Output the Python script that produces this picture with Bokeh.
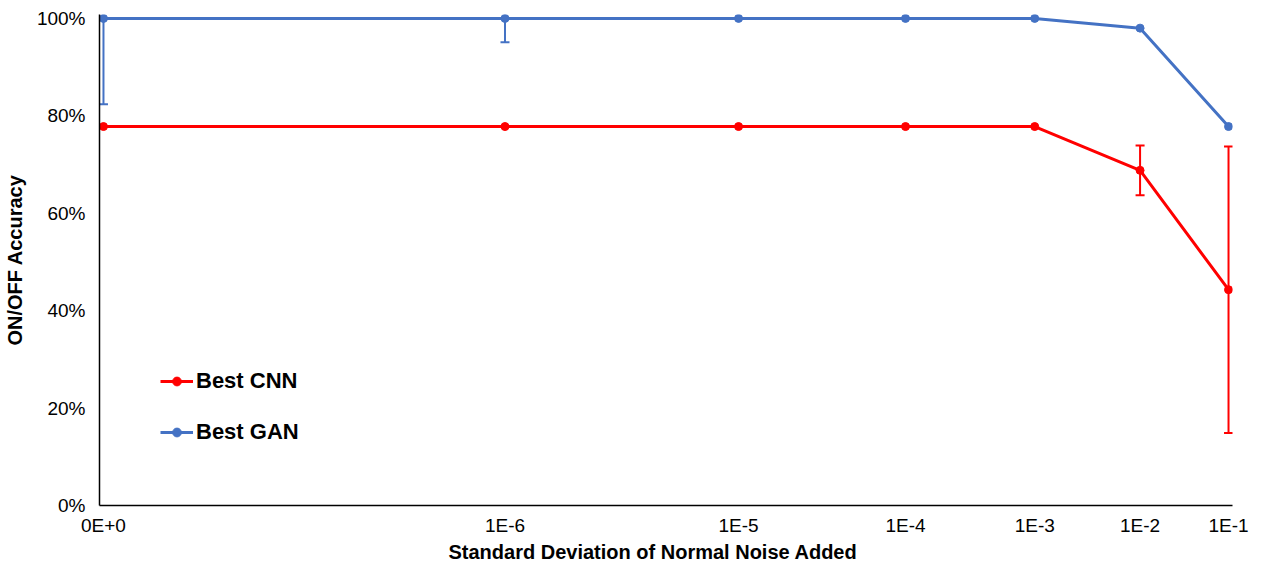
from bokeh.plotting import figure
from bokeh.models import Range1d, FixedTicker, Whisker, ColumnDataSource, Legend, PrintfTickFormatter, Title
from bokeh.embed import file_html
from bokeh.resources import INLINE

# ---- data ----
noise_labels = ["0E+0", "1E-6", "1E-5", "1E-4", "1E-3", "1E-2", "1E-1"]
axis_pos = [0, 404, 639, 807, 937, 1043, 1132]   # position of each noise level along the x axis
cnn_acc = [77.8, 77.8, 77.8, 77.8, 77.8, 68.8, 44.3]
cnn_err = [0, 0, 0, 0, 0, 5.1, 29.4]
gan_acc = [100, 100, 100, 100, 100, 98.0, 77.8]
gan_err = [17.6, 4.9, 0, 0, 0, 0, 0]
y_ticks = [0, 20, 40, 60, 80, 100]

RED = "#FF0000"
BLUE = "#4472C4"
FONT = "Liberation Sans"

p = figure(width=1250, height=562, output_backend="svg", toolbar_location=None,
           x_range=Range1d(-4, 1136), y_range=Range1d(0, 100.8),
           min_border_left=99, min_border_right=18, min_border_top=14, min_border_bottom=54)
p.outline_line_color = None
p.xgrid.grid_line_color = None
p.ygrid.grid_line_color = None
p.background_fill_color = "white"
p.border_fill_color = "white"


def err_source(xs, ys, es):
    xx, lo, hi = [], [], []
    for x, y, e in zip(xs, ys, es):
        if e > 0:
            xx.append(x)
            lo.append(max(0, y - e))
            hi.append(min(100, y + e))
    return ColumnDataSource(dict(x=xx, lower=lo, upper=hi))


gan_w = Whisker(source=err_source(axis_pos, gan_acc, gan_err), base="x", lower="lower", upper="upper",
                line_color=BLUE, line_width=2, upper_head=None)
gan_w.lower_head.line_color = BLUE
gan_w.lower_head.line_width = 2
gan_w.lower_head.size = 9
p.add_layout(gan_w)

cnn_w = Whisker(source=err_source(axis_pos, cnn_acc, cnn_err), base="x", lower="lower", upper="upper",
                line_color=RED, line_width=2)
for h in (cnn_w.lower_head, cnn_w.upper_head):
    h.line_color = RED
    h.line_width = 2
    h.size = 9
p.add_layout(cnn_w)

gan_l = p.line(axis_pos, gan_acc, line_color=BLUE, line_width=3)
gan_s = p.scatter(axis_pos, gan_acc, size=8, color=BLUE)
cnn_l = p.line(axis_pos, cnn_acc, line_color=RED, line_width=3)
cnn_s = p.scatter(axis_pos, cnn_acc, size=8, color=RED)

legend = Legend(items=[("Best CNN", [cnn_l, cnn_s]), ("Best GAN", [gan_l, gan_s])],
                location=(61, 60), padding=0, margin=0, spacing=25,
                glyph_width=33, glyph_height=22, label_height=22, label_standoff=3,
                border_line_color=None, background_fill_alpha=0,
                label_text_font=FONT, label_text_font_style="bold", label_text_font_size="22px",
                label_text_color="black")
p.add_layout(legend)

# axes
p.xaxis.ticker = FixedTicker(ticks=axis_pos)
p.xaxis.major_label_overrides = {x: lab for x, lab in zip(axis_pos, noise_labels)}
p.yaxis.ticker = FixedTicker(ticks=y_ticks)
p.yaxis.formatter = PrintfTickFormatter(format="%d%%")
for ax in (p.xaxis[0], p.yaxis[0]):
    ax.axis_line_color = "black"
    ax.axis_line_width = 1.5
    ax.major_tick_line_color = None
    ax.minor_tick_line_color = None
    ax.major_tick_out = 0
    ax.major_tick_in = 0
    ax.minor_tick_out = 0
    ax.minor_tick_in = 0
    ax.major_label_text_font = FONT
    ax.major_label_text_font_size = "19px"
    ax.major_label_text_color = "black"
    ax.axis_label_text_font = FONT
    ax.axis_label_text_font_style = "bold"
    ax.axis_label_text_font_size = "20px"
    ax.axis_label_text_color = "black"
p.yaxis.axis_label = "ON/OFF Accuracy"
p.xaxis.major_label_standoff = 9
p.yaxis.major_label_standoff = 14
p.yaxis.axis_label_standoff = 8

x_title = Title(text="Standard Deviation of Normal Noise Added", align="left", offset=349,
                standoff=0, text_font=FONT, text_font_style="bold", text_font_size="20px",
                text_color="black")
p.add_layout(x_title, "below")

open("out.html", "w").write(file_html(p, INLINE))
